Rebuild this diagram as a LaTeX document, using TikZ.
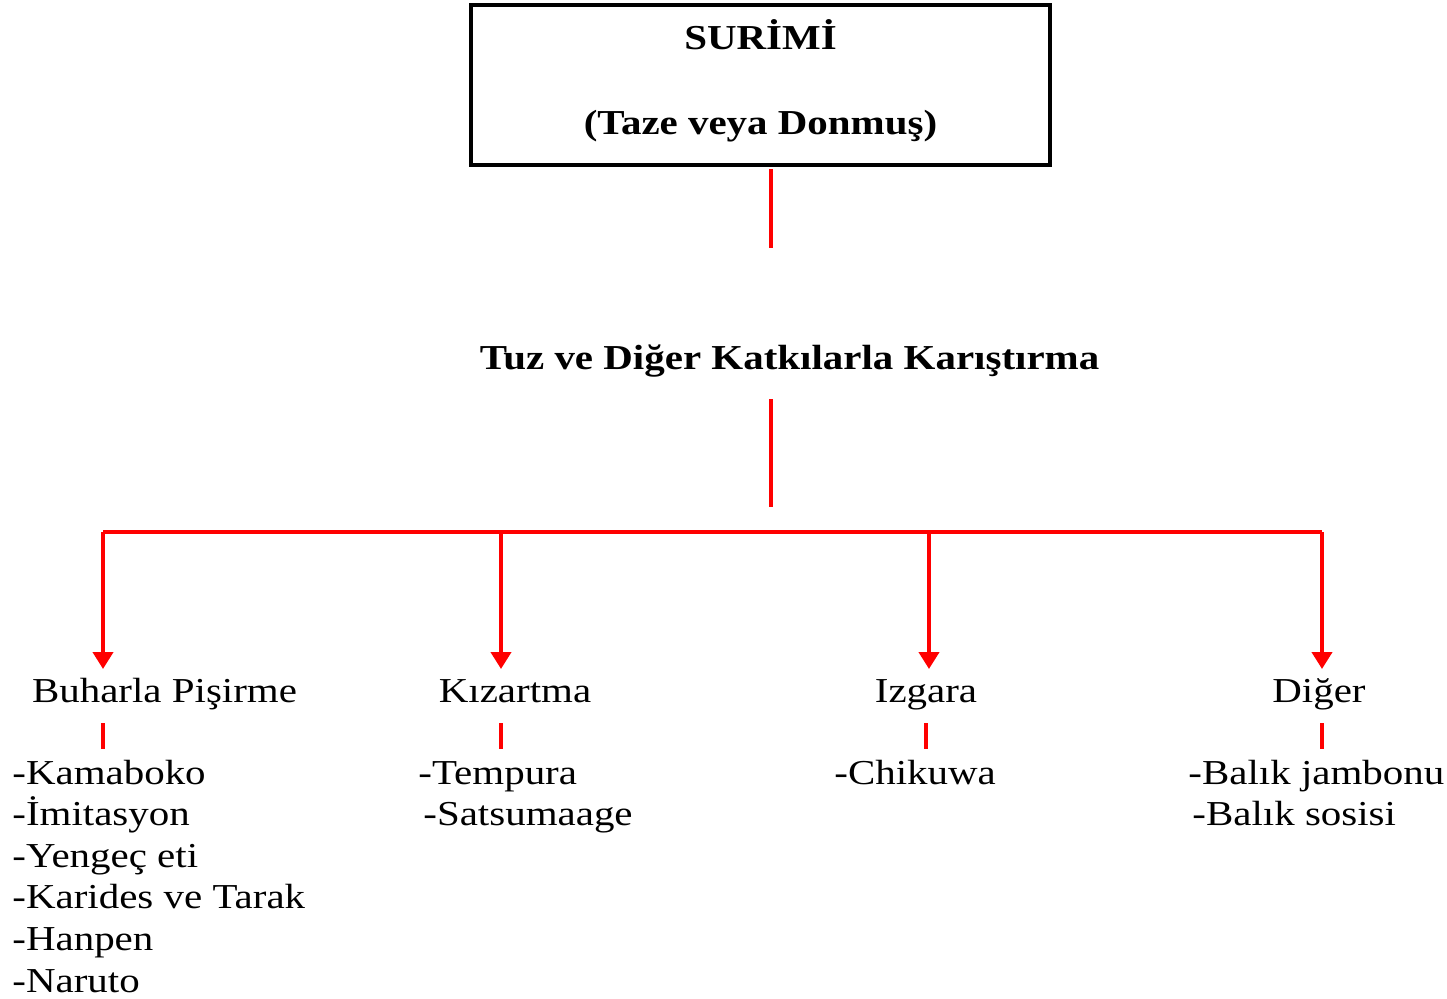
\documentclass[tikz,border=0pt]{standalone}
\usepackage{fontspec}
\setmainfont[FakeStretch=1.17]{Liberation Serif}
\usetikzlibrary{arrows.meta}

\begin{document}
\begin{tikzpicture}[x=0.5pt,y=-0.5pt,
    link/.style={draw=red,line width=2pt},
    arr/.style={link,-{Triangle[width=10pt,length=8.5pt]}},
    label/.style={inner sep=0pt,font=\fontsize{17.5}{20.8}\selectfont},
    list/.style={label,align=left,anchor=base west}]
    \useasboundingbox (0,0) rectangle (1447,998);
    % top box and mixing step
    \node[draw,line width=2pt,minimum width=289.5pt,minimum height=80pt,inner sep=0pt,
        align=center,font=\bfseries\fontsize{17.5}{42.5}\selectfont] (surimi) at (760.5,85)
        {SURİMİ\\(Taze veya Donmuş)\rule[-8pt]{0pt}{8pt}};
    \node[label,anchor=base,font=\bfseries\fontsize{17.5}{20.8}\selectfont] (mix) at (789.5,369)
        {Tuz ve Diğer Katkılarla Karıştırma};
    \coordinate (top) at (771,248);
    \coordinate (hub) at (771,507);
    \draw[link] ([yshift=-1pt]surimi.south -| top) -- (top);
    \draw[link] ([yshift=-15pt]mix.base -| hub) -- (hub);
    % cooking methods
    \node[label,anchor=base] (steam) at (164.5,702) {Buharla Pişirme};
    \node[label,anchor=base] (fry) at (515,702) {Kızartma};
    \node[label,anchor=base] (grill) at (926,702) {Izgara};
    \node[label,anchor=base] (other) at (1319,702) {Diğer};
    \coordinate (j1) at (103,532);
    \coordinate (j2) at (501,532);
    \coordinate (j3) at (929,532);
    \coordinate (j4) at (1322,532);
    \draw[link] (j1) -- (j4);
    \foreach \j/\n in {j1/steam,j2/fry,j3/grill,j4/other}
        \draw[arr] (\j) -- ([yshift=16.5pt]\n.base -| \j);
    % products (base = last line)
    \node[list] (steamlist) at (12,992) {-Kamaboko\\-İmitasyon\\-Yengeç eti\\-Karides ve Tarak\\-Hanpen\\-Naruto};
    \node[list] (frylist) at (418,825.6) {-Tempura\\\hspace*{2.5pt}-Satsumaage};
    \node[list] (grilllist) at (834,784) {-Chikuwa};
    \node[list] (otherlist) at (1188,825.6) {-Balık jambonu\\\hspace*{2pt}-Balık sosisi};
    \foreach \j/\n in {j1/steam,j2/fry,grill/grill,j4/other}
        \draw[link] ([yshift=-10.5pt]\n.base -| \j) -- ([yshift=-23.5pt]\n.base -| \j);
\end{tikzpicture}
\end{document}
